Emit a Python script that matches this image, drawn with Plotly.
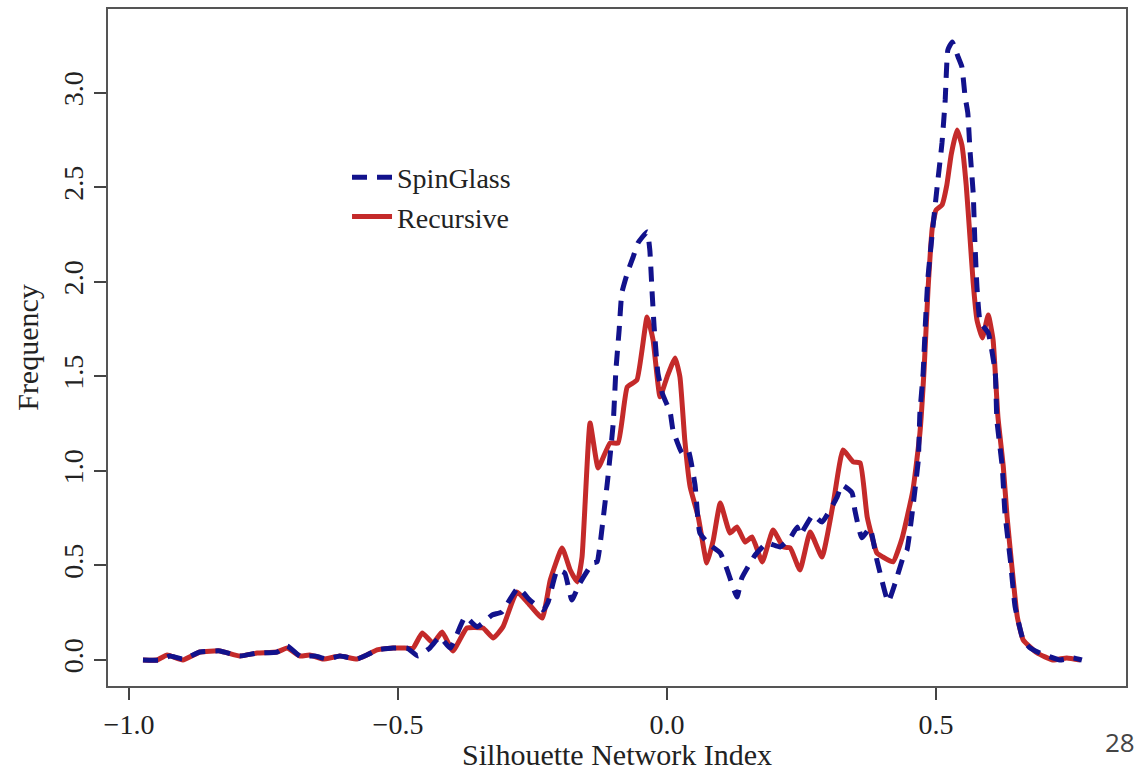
import plotly.graph_objects as go

# ---- data ----
recursive_x = [-0.974, -0.948, -0.929, -0.900, -0.868, -0.831, -0.794, -0.762, -0.725, -0.706,
               -0.682, -0.664, -0.639, -0.608, -0.576, -0.558, -0.539, -0.509, -0.487, -0.472,
               -0.455, -0.435, -0.418, -0.398, -0.372, -0.342, -0.323, -0.305, -0.279, -0.260,
               -0.232, -0.217, -0.195, -0.180, -0.167, -0.158, -0.143, -0.128, -0.106, -0.091,
               -0.074, -0.056, -0.037, -0.026, -0.013, 0.000, 0.015, 0.024, 0.033, 0.043,
               0.058, 0.074, 0.086, 0.099, 0.117, 0.130, 0.145, 0.158, 0.177, 0.197,
               0.216, 0.229, 0.247, 0.266, 0.288, 0.309, 0.327, 0.346, 0.359, 0.372,
               0.390, 0.401, 0.420, 0.437, 0.457, 0.470, 0.478, 0.485, 0.493, 0.500,
               0.511, 0.520, 0.528, 0.539, 0.548, 0.556, 0.563, 0.569, 0.576, 0.586,
               0.597, 0.606, 0.615, 0.625, 0.632, 0.641, 0.651, 0.662, 0.688, 0.717,
               0.743, 0.768]
recursive_y = [0.000, 0.000, 0.026, 0.000, 0.042, 0.048, 0.021, 0.037, 0.042, 0.063,
               0.021, 0.026, 0.005, 0.021, 0.005, 0.026, 0.053, 0.063, 0.063, 0.063,
               0.143, 0.090, 0.148, 0.048, 0.169, 0.169, 0.116, 0.175, 0.360, 0.307,
               0.222, 0.423, 0.593, 0.476, 0.413, 0.545, 1.254, 1.016, 1.148, 1.148,
               1.444, 1.481, 1.815, 1.693, 1.392, 1.497, 1.598, 1.497, 1.164, 0.915,
               0.757, 0.513, 0.635, 0.831, 0.672, 0.704, 0.624, 0.651, 0.519, 0.688,
               0.598, 0.593, 0.476, 0.677, 0.545, 0.831, 1.111, 1.048, 1.042, 0.757,
               0.566, 0.545, 0.519, 0.646, 0.899, 1.201, 1.550, 1.958, 2.286, 2.381,
               2.407, 2.513, 2.672, 2.804, 2.725, 2.513, 2.238, 1.995, 1.799, 1.704,
               1.825, 1.693, 1.286, 1.021, 0.757, 0.492, 0.228, 0.106, 0.037, 0.000,
               0.011, 0.000]

spinglass_x = [-0.974, -0.942, -0.924, -0.900, -0.868, -0.831, -0.794, -0.762, -0.725, -0.706,
               -0.682, -0.654, -0.632, -0.608, -0.576, -0.558, -0.539, -0.509, -0.483, -0.463,
               -0.441, -0.422, -0.403, -0.375, -0.353, -0.325, -0.307, -0.277, -0.255, -0.230,
               -0.221, -0.204, -0.190, -0.177, -0.162, -0.138, -0.130, -0.119, -0.110, -0.100,
               -0.095, -0.089, -0.084, -0.072, -0.063, -0.054, -0.037, -0.032, -0.028, -0.024,
               -0.017, -0.009, 0.006, 0.011, 0.028, 0.039, 0.052, 0.061, 0.080, 0.099,
               0.112, 0.130, 0.139, 0.164, 0.186, 0.210, 0.229, 0.242, 0.247, 0.271,
               0.288, 0.316, 0.325, 0.344, 0.349, 0.362, 0.377, 0.390, 0.396, 0.411,
               0.424, 0.439, 0.446, 0.457, 0.467, 0.470, 0.476, 0.480, 0.485, 0.493,
               0.502, 0.511, 0.517, 0.522, 0.530, 0.541, 0.548, 0.554, 0.559, 0.563,
               0.569, 0.572, 0.576, 0.582, 0.597, 0.610, 0.613, 0.623, 0.628, 0.638,
               0.647, 0.662, 0.675, 0.693, 0.730, 0.755, 0.771]
spinglass_y = [0.000, 0.000, 0.021, 0.005, 0.042, 0.048, 0.021, 0.037, 0.042, 0.074,
               0.021, 0.021, 0.005, 0.021, 0.005, 0.026, 0.053, 0.063, 0.063, 0.021,
               0.063, 0.122, 0.063, 0.228, 0.175, 0.238, 0.254, 0.381, 0.317, 0.265,
               0.307, 0.476, 0.460, 0.317, 0.407, 0.513, 0.519, 0.741, 0.963, 1.254,
               1.534, 1.746, 1.942, 2.063, 2.132, 2.206, 2.265, 2.169, 1.958, 1.762,
               1.519, 1.413, 1.307, 1.217, 1.095, 1.111, 0.926, 0.672, 0.608, 0.566,
               0.476, 0.333, 0.434, 0.556, 0.619, 0.598, 0.646, 0.704, 0.661, 0.767,
               0.730, 0.862, 0.926, 0.884, 0.794, 0.646, 0.698, 0.529, 0.460, 0.307,
               0.407, 0.545, 0.582, 0.810, 1.058, 1.307, 1.519, 1.772, 2.026, 2.259,
               2.503, 2.735, 2.963, 3.228, 3.270, 3.190, 3.138, 2.979, 2.894, 2.698,
               2.471, 2.222, 1.974, 1.788, 1.730, 1.519, 1.270, 1.021, 0.778, 0.529,
               0.280, 0.106, 0.063, 0.037, 0.000, 0.011, 0.000]

x_ticks = [-1.0, -0.5, 0.0, 0.5]
y_ticks = [0.0, 0.5, 1.0, 1.5, 2.0, 2.5, 3.0]

SERIF = "Liberation Serif, Times New Roman, serif"
RED = "#C42A2A"
BLUE = "#12128C"

fig = go.Figure()
fig.add_trace(go.Scatter(
    x=recursive_x, y=recursive_y, mode="lines", name="Recursive",
    line=dict(color=RED, width=5, shape="spline", smoothing=0.4),
))
fig.add_trace(go.Scatter(
    x=spinglass_x, y=spinglass_y, mode="lines", name="SpinGlass",
    line=dict(color=BLUE, width=5, dash="15px,10px", shape="spline", smoothing=0.4),
))

axis_common = dict(
    showgrid=False, zeroline=False, showline=True, mirror=True,
    linecolor="#555555", linewidth=2,
    ticks="outside", ticklen=12, tickwidth=2, tickcolor="#444444",
    tickfont=dict(family=SERIF, size=28, color="#222222"),
)

fig.update_xaxes(
    range=[-1.039, 0.853], tickvals=x_ticks, tickformat=".1f",
    title=dict(text="Silhouette Network Index", font=dict(family=SERIF, size=30, color="#222222"),
               standoff=19),
    **axis_common,
)
fig.update_yaxes(
    range=[-0.1376, 3.444], tickvals=y_ticks, tickformat=".1f", tickangle=-90,
    title=dict(text="Frequency", font=dict(family=SERIF, size=30, color="#222222"),
               standoff=10),
    **axis_common,
)

fig.update_layout(
    width=1138, height=771,
    margin=dict(l=108, r=12, t=9, b=85, autoexpand=False),
    plot_bgcolor="white", paper_bgcolor="white",
    showlegend=True,
    legend=dict(
        x=0.2348, y=0.7223, xanchor="left", yanchor="middle",
        traceorder="reversed", itemwidth=40,
        font=dict(family=SERIF, size=28, color="#222222"),
        bgcolor="rgba(0,0,0,0)", borderwidth=0,
    ),
    annotations=[dict(
        text="28", xref="paper", yref="paper", x=1.0108, y=-0.0827,
        xanchor="right", yanchor="middle", showarrow=False,
        font=dict(family="Open Sans, sans-serif", size=26, color="#444444"),
    )],
)

fig.write_html("out.html")
